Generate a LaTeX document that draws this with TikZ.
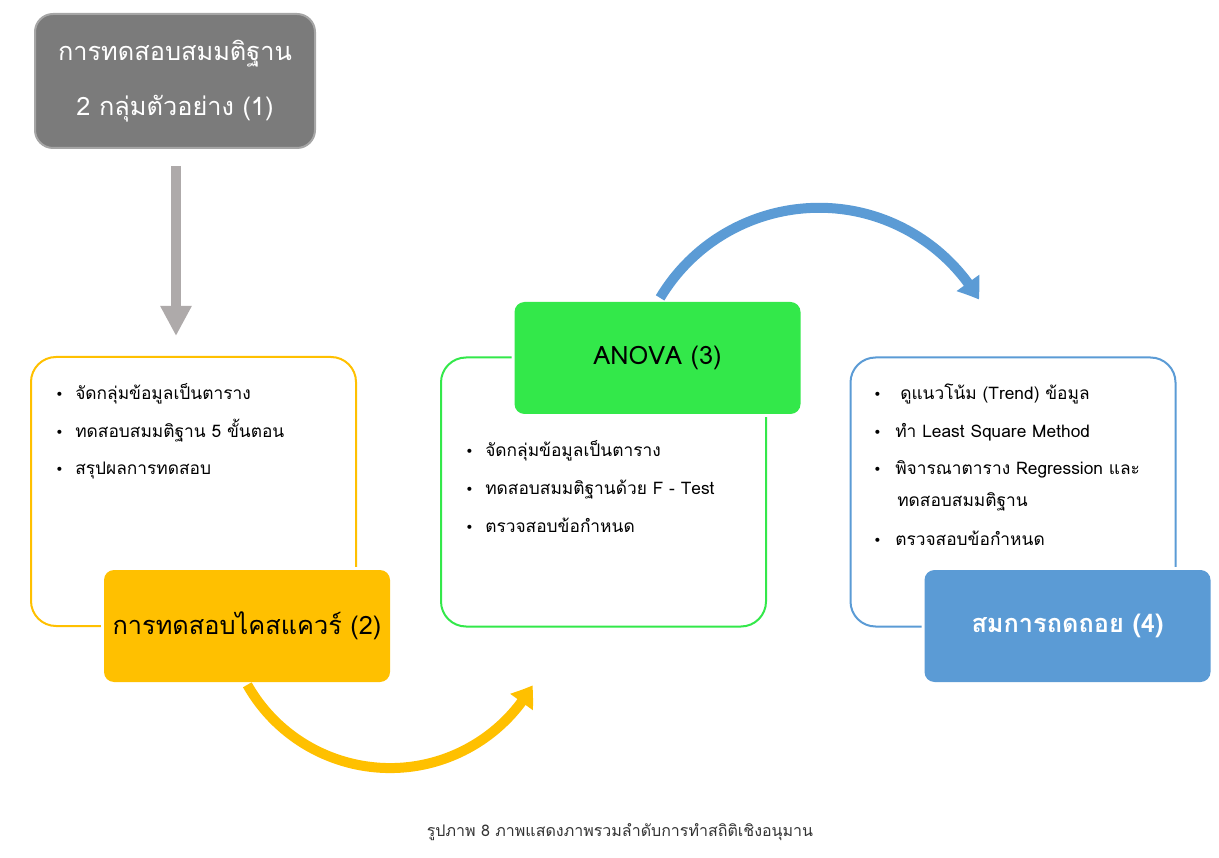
\documentclass[tikz,border=0pt]{standalone}
\usepackage{fontspec}
\setmainfont[Script=Thai]{Loma}
\newfontfamily\bulf{DejaVu Sans}
\usetikzlibrary{arrows.meta,bending}
\definecolor{cyel}{HTML}{FFC000}
\definecolor{cgrn}{HTML}{33E84A}
\definecolor{cblu}{HTML}{5B9BD5}
\definecolor{cgry}{HTML}{7B7B7B}
\definecolor{cgryb}{HTML}{A6A6A6}
\definecolor{carr}{HTML}{AEAAAA}
\newcommand{\bitem}[5]{\node[itemtext] (#1) at (#2,#3) {\makebox[#4][l]{\bulf\fontsize{10.5}{10}\selectfont •}#5};}
\begin{document}
\begin{tikzpicture}[x=0.75pt,y=0.75pt,
  outlinebox/.style={draw=#1, line width=1.5pt, rounded corners=18.75pt,
    minimum width=243.75pt, minimum height=201.75pt, inner sep=0pt},
  headbox/.style={fill=#1, rounded corners=7.5pt, minimum width=214.5pt,
    minimum height=84pt, inner sep=0pt,
    preaction={draw=white, line width=4.5pt}},
  headtext/.style={font=\fontsize{19}{22}\selectfont},
  itemtext/.style={anchor=base west, inner sep=0pt, font=\fontsize{13}{15}\selectfont},
  arcarrow/.style={draw=#1, line width=7.5pt,
    -{Triangle[length=15pt, width=20pt, bend]}},
]
\useasboundingbox (0,0) rectangle (1219,857);

% box 1
\node[fill=cgry, draw=cgryb, line width=1.5pt, rounded corners=13.5pt,
  minimum width=210pt, minimum height=100.5pt, inner sep=0pt,
  text=white, align=center, font=\fontsize{19}{41}\selectfont]
  (g1) at (175,776) {การทดสอบสมมติฐาน\\2 กลุ่มตัวอย่าง (1)};

% outline boxes
\node[outlinebox=cyel] (yo) at (193.5,365.5) {};
\node[outlinebox=cgrn] (go) at (603.5,365) {};
\node[outlinebox=cblu] (bo) at (1013,365) {};

% gray arrow
\draw[carr, line width=7.5pt, -{Triangle[length=22.5pt, width=22pt]},
  shorten <=12.75pt, shorten >=15pt] ([xshift=0.75pt]g1.south) -- ([xshift=0.75pt]g1.south |- yo.north);

% header boxes
\node[headbox=cyel, headtext] (yh) at (247,231) {การทดสอบไคสแควร์ (2)};
\node[headbox=cgrn, headtext] (gh) at (657.5,499) {ANOVA (3)};
\node[headbox=cblu, headtext, text=white, font=\fontsize{19}{22}\selectfont\bfseries] (bh) at (1067.5,231) {สมการถดถอย (4)};

% items yellow
\bitem{y1}{55}{457}{15pt}{จัดกลุ่มข้อมูลเป็นตาราง}
\bitem{y2}{55}{419}{15pt}{ทดสอบสมมติฐาน 5 ขั้นตอน}
\bitem{y3}{55}{382}{15pt}{สรุปผลการทดสอบ}
% items green
\bitem{g1i}{465}{400}{15pt}{จัดกลุ่มข้อมูลเป็นตาราง}
\bitem{g2i}{465}{362}{15pt}{ทดสอบสมมติฐานด้วย F - Test}
\bitem{g3i}{465}{325}{15pt}{ตรวจสอบข้อกำหนด}
% items blue
\bitem{b1}{873}{457}{16.5pt}{\hspace{3.75pt}ดูแนวโน้ม (Trend) ข้อมูล}
\bitem{b2}{873}{419}{16.5pt}{ทำ Least Square Method}
\bitem{b3}{873}{382}{16.5pt}{พิจารณาตาราง Regression และ}
\node[itemtext] (b3b) at (897,350) {ทดสอบสมมติฐาน};
\bitem{b4}{873}{312}{16.5pt}{ตรวจสอบข้อกำหนด}

% curved arrows
\coordinate (ys) at (247.3,172.2);
\draw[arcarrow=cyel] (ys) arc[start angle=209.5, end angle=330.3, radius=164];
\coordinate (bs) at (660.1,559.1);
\draw[arcarrow=cblu] (bs) arc[start angle=149.1, end angle=30.3, radius=185.2];

% caption
\node[text=black!80, font=\fontsize{12}{14}\selectfont] (cap) at (620,25)
  {รูปภาพ 8 ภาพแสดงภาพรวมลำดับการทำสถิติเชิงอนุมาน};
\end{tikzpicture}
\end{document}
